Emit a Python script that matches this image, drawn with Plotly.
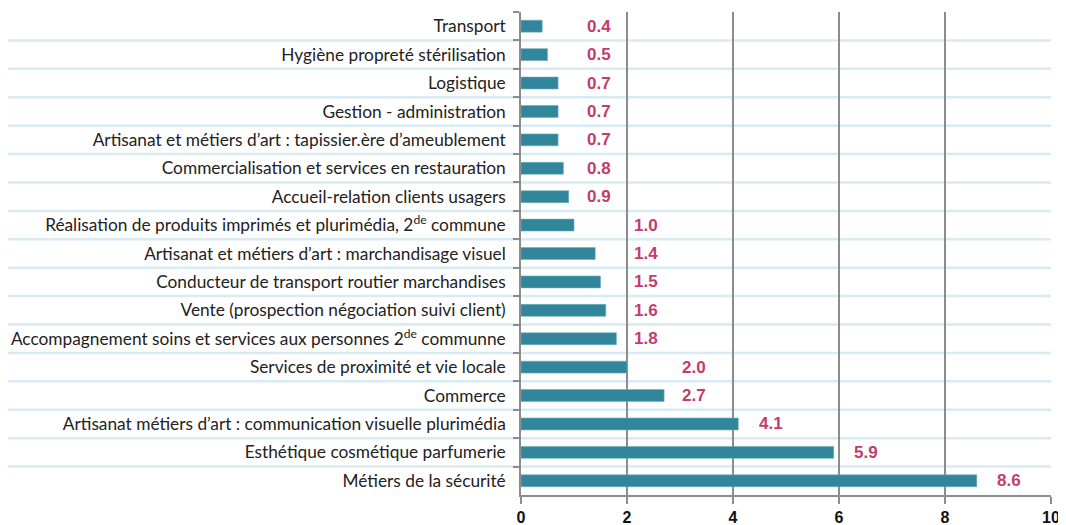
import math
import plotly.graph_objects as go

categories = [
    "Transport",
    "Hygiène propreté stérilisation",
    "Logistique",
    "Gestion - administration",
    "Artisanat et métiers d’art : tapissier.ère d’ameublement",
    "Commercialisation et services en restauration",
    "Accueil-relation clients usagers",
    "Réalisation de produits imprimés et plurimédia, 2<sup>de</sup> commune",
    "Artisanat et métiers d’art : marchandisage visuel",
    "Conducteur de transport routier marchandises",
    "Vente (prospection négociation suivi client)",
    "Accompagnement soins et services aux personnes 2<sup>de</sup> communne",
    "Services de proximité et vie locale",
    "Commerce",
    "Artisanat métiers d’art : communication visuelle plurimédia",
    "Esthétique cosmétique parfumerie",
    "Métiers de la sécurité",
]
values = [0.4, 0.5, 0.7, 0.7, 0.7, 0.8, 0.9, 1.0, 1.4, 1.5, 1.6, 1.8, 2.0, 2.7, 4.1, 5.9, 8.6]
x_ticks = [0, 2, 4, 6, 8, 10]

BAR = "#31869b"
LABEL = "#c23c6e"
GRID = "#8c8c8c"
SEP = "#d8eaf2"


def label_x(v):
    if v < 3:
        return max(v + 0.3, 1.2 + 0.9 * math.floor(v))
    return v + 0.35


fig = go.Figure()
fig.add_trace(go.Bar(
    y=categories, x=values, orientation="h",
    marker=dict(color=BAR, line=dict(color="#6fb0c0", width=0.6)),
    width=0.42, hoverinfo="skip",
))

# value labels
for c, v in zip(categories, values):
    fig.add_annotation(
        x=label_x(v), y=c, xref="x", yref="y",
        text=f"{v:.1f}", showarrow=False, xanchor="left", yanchor="middle",
        font=dict(family="Liberation Sans", size=17, color=LABEL, weight="bold"),
    )

# light blue separators between categories, extending into label area
for i in range(len(categories) - 1):
    fig.add_shape(
        type="line", xref="paper", yref="y",
        x0=-0.968, x1=1.0, y0=i + 0.5, y1=i + 0.5,
        line=dict(color=SEP, width=2.5), layer="below",
    )

# page body has an 8px margin, so the figure is sized to fill the rest
fig.update_layout(
    width=1058, height=517,
    margin=dict(l=513, r=15, t=4, b=30, autoexpand=False),
    paper_bgcolor="white", plot_bgcolor="white",
    showlegend=False, bargap=0.5,
    font=dict(family="Lato", size=17.3, color="#222222"),
)
fig.update_xaxes(
    range=[0, 10], tickvals=x_ticks, ticktext=[str(t) for t in x_ticks],
    showgrid=True, gridcolor=GRID, gridwidth=1.6,
    zeroline=False, showline=True, linecolor=GRID, linewidth=1.6,
    ticks="outside", ticklen=7, tickcolor=GRID, tickwidth=1.6,
    tickfont=dict(family="Liberation Sans", size=16, color="#111111", weight="bold"),
    ticklabelstandoff=0,
    automargin=False, fixedrange=True,
)
fig.update_yaxes(
    autorange="reversed", type="category",
    tickson="boundaries", ticks="outside", ticklen=6, tickcolor=GRID, tickwidth=1.6,
    showline=True, linecolor=GRID, linewidth=1.6, showgrid=False,
    tickfont=dict(family="Lato", size=17.3, color="#222222"),
    ticklabelstandoff=10,
    automargin=False, fixedrange=True,
)

fig.write_html("out.html")
